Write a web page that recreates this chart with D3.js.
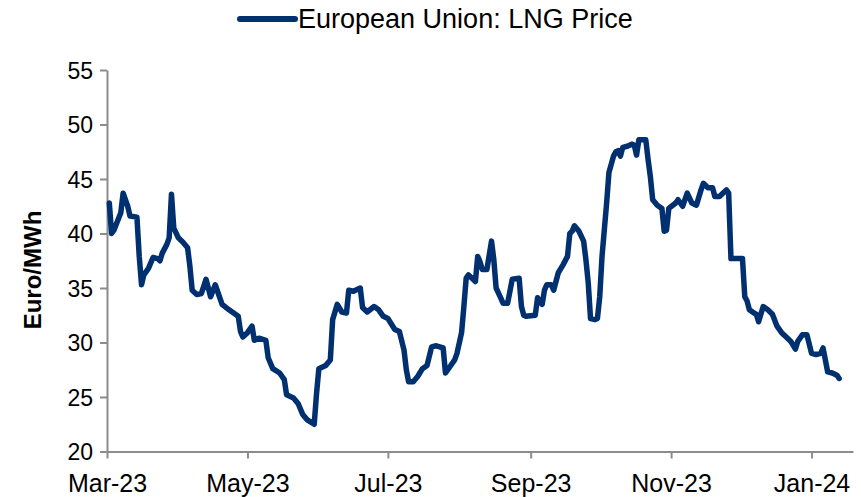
<!DOCTYPE html>
<html>
<head>
<meta charset="utf-8">
<script src="https://cdn.jsdelivr.net/npm/d3@7"></script>
<style>
  body { margin: 0; background: #fff; }
  svg { display: block; font-family: "Liberation Sans", Arial, sans-serif; }
</style>
</head>
<body>
<div id="vis"></div>
<script>
// ----------------
// Data
// ----------------
const seriesName = "European Union: LNG Price";
const yTitle = "Euro/MWh";

const dates = [
  "2023-03-02","2023-03-03","2023-03-04","2023-03-07","2023-03-08","2023-03-10","2023-03-11","2023-03-14","2023-03-15","2023-03-16",
  "2023-03-17","2023-03-19","2023-03-21","2023-03-23","2023-03-24","2023-03-25","2023-03-27","2023-03-28","2023-03-29","2023-03-30",
  "2023-04-01","2023-04-03","2023-04-05","2023-04-06","2023-04-07","2023-04-09","2023-04-11","2023-04-13","2023-04-15","2023-04-17",
  "2023-04-18","2023-04-20","2023-04-23","2023-04-25","2023-04-27","2023-04-28","2023-04-29","2023-05-01","2023-05-03","2023-05-04",
  "2023-05-06","2023-05-09","2023-05-10","2023-05-12","2023-05-15","2023-05-17","2023-05-18","2023-05-21","2023-05-23","2023-05-25",
  "2023-05-27","2023-05-30","2023-05-31","2023-06-01","2023-06-04","2023-06-06","2023-06-07","2023-06-09","2023-06-11","2023-06-13",
  "2023-06-14","2023-06-16","2023-06-19","2023-06-20","2023-06-22","2023-06-25","2023-06-27","2023-06-29","2023-07-01","2023-07-04",
  "2023-07-06","2023-07-08","2023-07-09","2023-07-10","2023-07-12","2023-07-14","2023-07-16","2023-07-18","2023-07-20","2023-07-22",
  "2023-07-25","2023-07-26","2023-07-28","2023-07-30","2023-07-31","2023-08-02","2023-08-03","2023-08-04","2023-08-05","2023-08-07",
  "2023-08-08","2023-08-09","2023-08-10","2023-08-11","2023-08-13","2023-08-15","2023-08-16","2023-08-17","2023-08-19","2023-08-20",
  "2023-08-22","2023-08-23","2023-08-24","2023-08-27","2023-08-28","2023-08-29","2023-08-30","2023-09-03","2023-09-04","2023-09-06",
  "2023-09-07","2023-09-08","2023-09-10","2023-09-11","2023-09-12","2023-09-13","2023-09-15","2023-09-17","2023-09-18","2023-09-19",
  "2023-09-20","2023-09-22","2023-09-24","2023-09-25","2023-09-26","2023-09-27","2023-09-29","2023-09-30","2023-10-01","2023-10-02",
  "2023-10-04","2023-10-05","2023-10-07","2023-10-08","2023-10-09","2023-10-10","2023-10-11","2023-10-13","2023-10-15","2023-10-16",
  "2023-10-17","2023-10-18","2023-10-21","2023-10-22","2023-10-23","2023-10-24","2023-10-26","2023-10-28","2023-10-29","2023-10-30",
  "2023-10-31","2023-11-03","2023-11-04","2023-11-06","2023-11-08","2023-11-10","2023-11-12","2023-11-14","2023-11-15","2023-11-17",
  "2023-11-19","2023-11-20","2023-11-22","2023-11-25","2023-11-26","2023-11-27","2023-11-29","2023-12-02","2023-12-03","2023-12-04",
  "2023-12-05","2023-12-07","2023-12-08","2023-12-09","2023-12-11","2023-12-13","2023-12-15","2023-12-17","2023-12-19","2023-12-21",
  "2023-12-23","2023-12-25","2023-12-26","2023-12-28","2023-12-30","2024-01-01","2024-01-03","2024-01-05","2024-01-06","2024-01-07",
  "2024-01-08","2024-01-10","2024-01-12","2024-01-13"
];

const values = [
  42.8,40.0,40.3,41.9,43.7,42.5,41.6,41.5,37.9,35.3,
  36.2,36.8,37.8,37.7,37.5,38.2,39.0,39.6,43.6,40.5,
  39.6,39.2,38.7,37.0,34.8,34.4,34.5,35.8,34.2,35.3,
  34.7,33.5,33.0,32.7,32.4,31.0,30.5,30.9,31.5,30.2,
  30.4,30.2,28.6,27.6,27.2,26.6,25.2,24.9,24.4,23.4,
  22.9,22.5,25.3,27.6,27.9,28.4,32.1,33.5,32.8,32.7,
  34.8,34.7,35.0,33.2,32.8,33.3,33.0,32.4,32.2,31.2,
  31.0,29.3,27.5,26.4,26.4,26.9,27.6,27.9,29.6,29.7,
  29.5,27.2,27.8,28.4,29.0,30.9,33.3,35.9,36.2,35.8,
  35.6,37.9,37.4,36.7,36.7,39.3,37.6,35.0,34.1,33.6,
  33.6,34.7,35.8,35.9,33.3,32.5,32.4,32.5,34.1,33.5,
  34.8,35.3,35.3,34.8,35.6,36.4,37.1,37.9,40.0,40.2,
  40.7,40.2,39.3,37.6,35.5,32.2,32.1,32.2,34.2,37.9,
  42.8,45.6,47.1,47.5,47.6,47.1,47.9,48.0,48.2,48.1,
  47.2,48.6,48.6,46.8,45.2,43.1,42.6,42.3,40.2,40.3,
  42.3,42.8,43.1,42.5,43.7,42.8,42.6,44.0,44.6,44.2,
  44.2,43.4,43.4,44.0,43.7,37.7,37.7,37.7,34.2,33.8,
  33.0,32.7,32.6,31.9,33.3,33.0,32.6,31.5,30.9,30.5,
  30.1,29.4,30.1,30.7,30.7,29.0,28.9,29.0,29.5,28.4,
  27.3,27.2,27.0,26.7
];

const xTickDates = ["2023-03-01","2023-05-01","2023-07-01","2023-09-01","2023-11-01","2024-01-01"];
const yTicks = [20, 25, 30, 35, 40, 45, 50, 55];

// ----------------
// Dimensions
// ----------------
const dimensions = {
  width: 861,
  height: 497,
  margin: {top: 70, right: 8, bottom: 45.5, left: 107}
};
dimensions.boundedWidth = dimensions.width - dimensions.margin.left - dimensions.margin.right;
dimensions.boundedHeight = dimensions.height - dimensions.margin.top - dimensions.margin.bottom;

const parseDate = d3.timeParse("%Y-%m-%d");
const dataset = dates.map((d, i) => ({date: parseDate(d), value: values[i]}));

const navy = "#00306f";
const axisGrey = "#8c8c8c";

// ----------------
// SVG
// ----------------
const svg = d3.select("#vis")
  .append("svg")
  .attr("width", dimensions.width)
  .attr("height", dimensions.height);

const bounds = svg.append("g")
  .attr("transform", `translate(${dimensions.margin.left}, ${dimensions.margin.top})`);

// ----------------
// Scales
// ----------------
const xScale = d3.scaleTime()
  .domain([parseDate("2023-03-01"), parseDate("2024-01-19")])
  .range([0, dimensions.boundedWidth]);

const yScale = d3.scaleLinear()
  .domain([20, 55])
  .range([dimensions.boundedHeight, 0]);

// ----------------
// Axes
// ----------------
const xAxis = d3.axisBottom(xScale)
  .tickValues(xTickDates.map(parseDate))
  .tickFormat(d3.timeFormat("%b-%y"))
  .tickSize(7)
  .tickSizeOuter(0);

const yAxis = d3.axisLeft(yScale)
  .tickValues(yTicks)
  .tickSize(7)
  .tickSizeOuter(0);

const xAxisG = bounds.append("g")
  .attr("transform", `translate(0, ${dimensions.boundedHeight})`)
  .call(xAxis);
xAxisG.selectAll("text")
  .attr("dy", null)
  .attr("y", 40)
  .attr("fill", "#000")
  .style("font-size", "25px");

const yAxisG = bounds.append("g").call(yAxis);
yAxisG.selectAll("text")
  .attr("x", -14)
  .attr("dy", "0.35em")
  .attr("fill", "#000")
  .style("font-size", "23px");

bounds.selectAll(".domain, .tick line")
  .attr("stroke", axisGrey)
  .attr("stroke-width", 2);

// y title
svg.append("text")
  .attr("transform", `translate(41, 270) rotate(-90)`)
  .attr("text-anchor", "middle")
  .style("font-size", "24px")
  .style("font-weight", "bold")
  .text(yTitle);

// ----------------
// Line
// ----------------
const line = d3.line()
  .x(d => xScale(d.date))
  .y(d => yScale(d.value));

bounds.append("path")
  .datum(dataset)
  .attr("fill", "none")
  .attr("stroke", navy)
  .attr("stroke-width", 5.5)
  .attr("stroke-linejoin", "round")
  .attr("stroke-linecap", "round")
  .attr("d", line);

// ----------------
// Legend
// ----------------
const legend = svg.append("g").attr("transform", "translate(240, 19)");
legend.append("line")
  .attr("x1", 0).attr("x2", 55)
  .attr("stroke", navy)
  .attr("stroke-width", 6)
  .attr("stroke-linecap", "round");
legend.append("text")
  .attr("x", 58)
  .attr("dy", "0.35em")
  .style("font-size", "27px")
  .text(seriesName);
</script>
</body>
</html>
